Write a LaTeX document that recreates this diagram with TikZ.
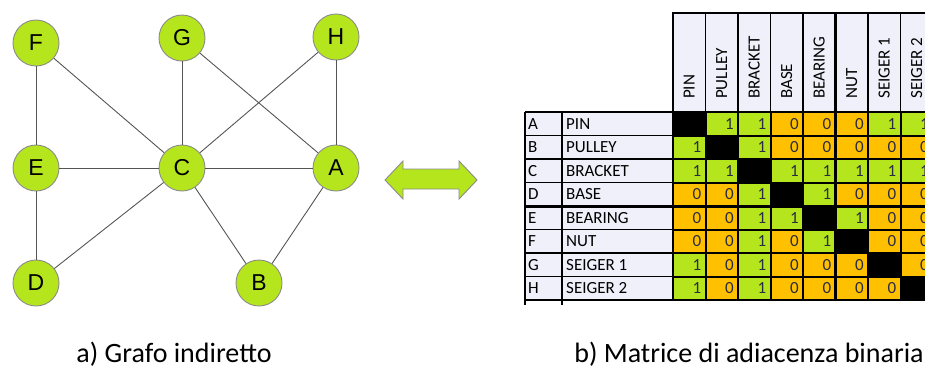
\documentclass[tikz,border=0pt]{standalone}
\usepackage{fontspec}
\setmainfont{Carlito}
\newfontfamily\arialfont{Liberation Sans}
\usepackage{tikz}
\usetikzlibrary{positioning}
\definecolor{gLime}{HTML}{B5E61D}
\definecolor{gAmber}{HTML}{FFC000}
\definecolor{gLav}{HTML}{F0F0FA}
\definecolor{gEdge}{HTML}{555555}
\definecolor{gRim}{HTML}{8A8A8A}
\definecolor{gNum}{HTML}{2B2B44}
\colorlet{c0}{gAmber}
\colorlet{c1}{gLime}
\colorlet{c2}{black}

\begin{document}
\begin{tikzpicture}[x=1pt,y=-1pt,
  v/.style={circle,draw=gRim,fill=gLime,line width=0.9pt,minimum size=46pt,
            inner sep=0pt,font=\arialfont\fontsize{23}{25}\selectfont},
  e/.style={gEdge,line width=0.9pt},
  num/.style={font=\fontsize{17}{19}\selectfont,text=gNum,inner sep=0pt},
  lab/.style={font=\fontsize{17}{19}\selectfont,inner sep=0pt,anchor=west},
  hd/.style={font=\fontsize{17}{19}\selectfont,inner sep=0pt,rotate=90,anchor=west},
  grid/.style={black,line width=1.3pt},
  thick grid/.style={black,line width=2.6pt},
  captxt/.style={font=\fontsize{28}{32}\selectfont,inner sep=0pt,anchor=base}]
\useasboundingbox (0,0) rectangle (925,367);
% graph
\node[v] (F) at (36,43) {F};
\node[v] (G) at (182,38) {G};
\node[v] (H) at (336,37) {H};
\node[v] (E) at (36,168) {E};
\node[v] (C) at (182,168) {C};
\node[v] (A) at (336,168) {A};
\node[v] (D) at (36,283) {D};
\node[v] (B) at (259,283) {B};
\foreach \p/\q in {F/E,F/C,G/C,G/A,H/C,H/A,E/C,C/A,E/D,D/C,C/B,A/B}
  \draw[e] (\p) -- (\q);
% double arrow
\filldraw[fill=gLime,draw=gRim,line width=0.9pt]
  (385,180) -- (403,161) -- (403,169) -- (459,169) -- (459,161) -- (477,180)
  -- (459,199) -- (459,189) -- (403,189) -- (403,199) -- cycle;
% header
\fill[gLav] (673,13) rectangle (933,112);
\foreach \name [count=\c] in {PIN,PULLEY,BRACKET,BASE,BEARING,NUT,SEIGER 1,SEIGER 2} {
  \node[hd] (h\c) at ({673+32.5*(\c-0.5)},99) {\name};
  \draw[grid] ({673+32.5*\c},13) -- ({673+32.5*\c},112);
}
% row labels
\fill[gLav] (525,112) rectangle (673,300);
\foreach \id/\name [count=\r] in {A/PIN,B/PULLEY,C/BRACKET,D/BASE,E/BEARING,F/NUT,G/SEIGER 1,H/SEIGER 2} {
  \node[lab] (i\r) at (528,{112+23.5*(\r-0.5)}) {\id};
  \node[lab] (n\r) at (566,{112+23.5*(\r-0.5)}) {\name};
  \draw[grid] (525,{112+23.5*\r}) -- (673,{112+23.5*\r});
}
\draw[grid] (525,112) -- (525,305);
\draw[grid] (562,112) -- (562,305);
% matrix cells
\fill[black] (673,112) rectangle (933,300);
\foreach \vals [count=\r] in {{2,1,1,0,0,0,1,1},{1,2,1,0,0,0,0,0},{1,1,2,1,1,1,1,1},
    {0,0,1,2,1,0,0,0},{0,0,1,1,2,1,0,0},{0,0,1,0,1,2,0,0},{1,0,1,0,0,0,2,0},
    {1,0,1,0,0,0,0,2}}
  \foreach \v [count=\c] in \vals {
    \fill[c\v] ({673+32.5*(\c-1)+1},{112+23.5*(\r-1)+1}) rectangle ++(30.5,21.5);
    \ifnum\v<2 \node[num,anchor=east] (m\r\c) at ({673+32.5*\c-4},{112+23.5*(\r-0.5)}) {\v};\fi
  };
% frame
\draw[thick grid] (673,13) rectangle (933,300);
\draw[thick grid] (525,112) -- (933,112);
\draw[thick grid] (525,207) -- (933,207);
\draw[thick grid] (835.5,13) -- (835.5,300);
\draw[grid] (525,300) -- (673,300);
% captions
\node[captxt] (capA) at (174,362) {a) Grafo indiretto};
\node[captxt] (capB) at (749,362) {b) Matrice di adiacenza binaria};
\end{tikzpicture}
\end{document}
